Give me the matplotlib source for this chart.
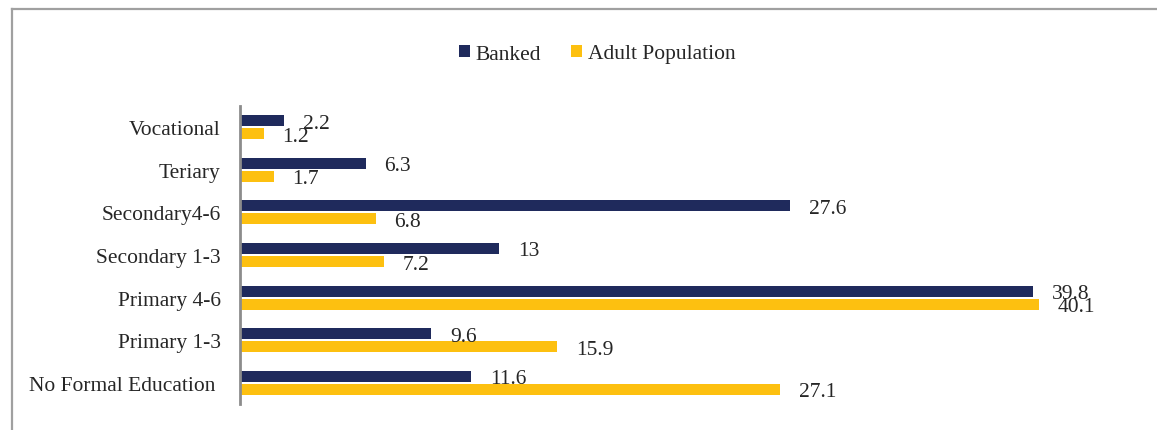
import numpy as np
import matplotlib.pyplot as plt
from matplotlib.lines import Line2D
from matplotlib.patches import Patch

# education level shares (%), banked vs adult population
categories = ['Vocational', 'Teriary', 'Secondary4-6', 'Secondary 1-3',
              'Primary 4-6', 'Primary 1-3', 'No Formal Education ']
banked = [2.2, 6.3, 27.6, 13, 39.8, 9.6, 11.6]
adult_pop = [1.2, 1.7, 6.8, 7.2, 40.1, 15.9, 27.1]
series_names = ['Banked', 'Adult Population']

NAVY = '#1f2a5c'
GOLD = '#fdc010'
TXT = '#262626'
FS = 15.5

plt.rcParams['font.family'] = ['Liberation Serif', 'DejaVu Serif']

fig = plt.figure(figsize=(11.57, 4.31), dpi=100)
W, H = 1157.0, 431.0
ax = fig.add_axes([240 / W, (H - 405) / H, 897 / W, 298 / H])

y = np.arange(len(categories))
off = 0.153
hgt = 0.26
b1 = ax.barh(y - off, banked, height=hgt, color=NAVY)
b2 = ax.barh(y + off, adult_pop, height=hgt, color=GOLD)

for bars, vals in ((b1, banked), (b2, adult_pop)):
    for rect, v in zip(bars, vals):
        ax.annotate(f'{v:g}', (rect.get_width(), rect.get_y() + rect.get_height() / 2),
                    xytext=(13.5, -1.8), textcoords='offset points',
                    ha='left', va='center', fontsize=FS, color=TXT)

ax.set_xlim(0, 45)
ax.set_ylim(6.5, -0.5)
ax.set_yticks(y)
ax.set_yticklabels(categories, fontsize=FS, color=TXT)
ax.tick_params(axis='y', length=0, pad=14)
ax.set_xticks([])
for s in ('top', 'right', 'bottom'):
    ax.spines[s].set_visible(False)
ax.spines['left'].set_color('#8c8c8c')
ax.spines['left'].set_linewidth(2)

handles = [Patch(facecolor=NAVY), Patch(facecolor=GOLD)]
fig.legend(handles, series_names, loc='center', bbox_to_anchor=(597 / W, 1 - 55 / H),
           ncol=2, frameon=False, fontsize=FS, handlelength=0.52, handleheight=0.52,
           handletextpad=0.25, columnspacing=1.4, labelcolor=TXT)

# frame lines around the figure area
fig.add_artist(Line2D([12 / W, 12 / W], [0, 1 - 9.5 / H], transform=fig.transFigure,
                      color='#a0a0a0', lw=1.6))
fig.add_artist(Line2D([12 / W, 1], [1 - 9.5 / H, 1 - 9.5 / H], transform=fig.transFigure,
                      color='#a0a0a0', lw=1.6))

fig.savefig('out.png', dpi=100)
